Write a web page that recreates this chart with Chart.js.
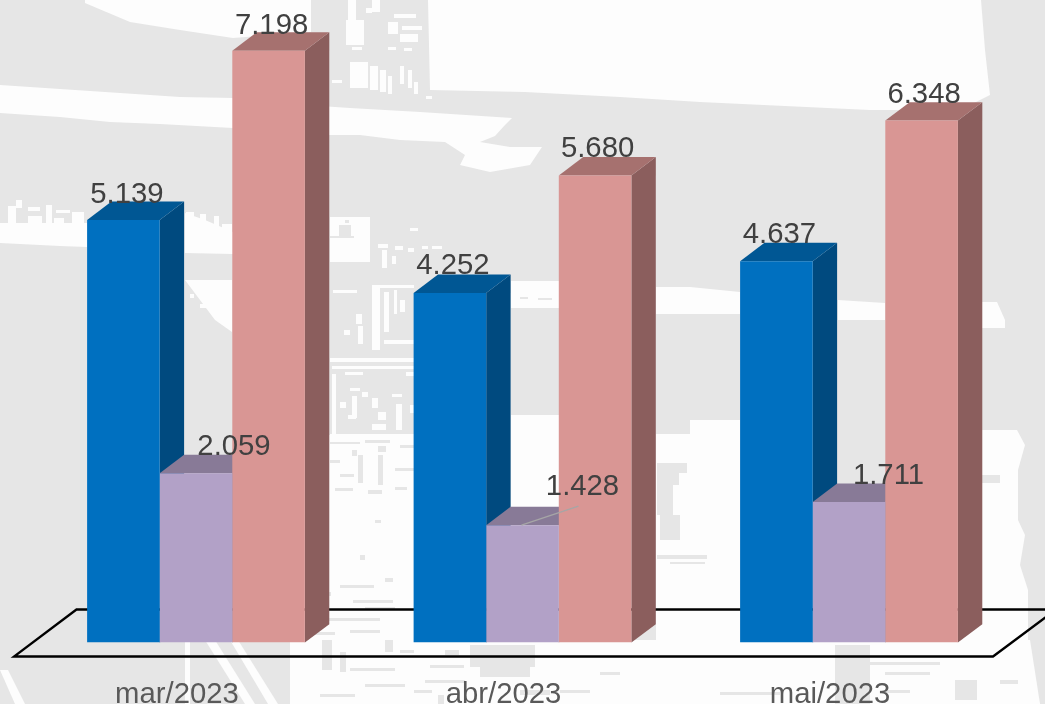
<!DOCTYPE html>
<html>
<head>
<meta charset="utf-8">
<style>
  html, body { margin: 0; padding: 0; background: #e6e6e6; overflow: hidden; }
  #wrap { width: 1045px; height: 704px; }
</style>
<script src="https://cdn.jsdelivr.net/npm/chart.js@4/dist/chart.umd.min.js"></script>
</head>
<body>
<div id="wrap"><canvas id="grafico" width="1045" height="704"></canvas></div>
<script>
const categorias = ['mar/2023', 'abr/2023', 'mai/2023'];
const serieAzul = [5139, 4252, 4637];
const serieLilas = [2059, 1428, 1711];
const serieRosa = [7198, 5680, 6348];

// cores: frente, topo, lateral
const coresAzul = ['#0070c0', '#005794', '#004a7f'];
const coresLilas = ['#b2a1c7', '#887a97', '#766b85'];
const coresRosa = ['#d99694', '#a6716f', '#8b5e5d'];

// deslocamento da linha de base dos rotulos em relacao ao topo de cada barra [dx, dy]
const ajusteAzul = [[3.5, -17], [3, -19], [3, -18]];
const ajusteLilas = [[38, -18], [60, -30], [39.5, -18]];
const ajusteRosa = [[3, -16.5], [2.5, -18], [2.5, -18]];

const fundoBranco = [
  [[428,0],[981,0],[985,50],[990,95],[960,110],[870,110],[700,102],[620,97],[525,92],[430,90]],
  [[85,0],[311,0],[311,32],[233,38],[180,30],[130,22],[85,3]],
  [[0,85],[75,90],[120,93],[180,97],[233,98],[233,128],[160,124],[110,122],[60,117],[0,113]],
  [[305,105],[350,108],[420,112],[512,118],[505,125],[495,136],[480,142],[510,147],[542,147],[530,165],[490,172],[460,165],[465,155],[445,142],[400,140],[360,135],[305,135]],
  [[0,223],[87,223],[87,247],[60,246],[0,243]],
  [[185,213],[205,220],[233,232],[233,254],[185,253]],
  [[330,217],[370,217],[370,262],[330,262]],
  [[185,280],[232,280],[232,332],[215,320]],
  [[305,435],[414,435],[414,704],[305,704]],
  [[511,281],[559,281],[559,308],[511,308]],
  [[511,415],[560,415],[560,704],[511,704]],
  [[656,287],[690,287],[740,292],[740,314],[656,314]],
  [[656,434],[690,434],[690,420],[740,420],[740,704],[656,704]],
  [[414,640],[1030,640],[1040,704],[414,704]],
  [[838,300],[885,303],[885,320],[838,320]],
  [[982,302],[997,302],[1005,320],[1005,328],[982,328]],
  [[958,430],[1017,430],[1025,445],[1018,470],[1018,520],[1025,535],[1020,565],[1028,590],[1028,650],[1030,680],[1040,704],[958,704]],
  [[0,670],[8,670],[25,704],[15,704]],
  [[185,640],[190,640],[190,704],[185,704]],
  [[205,640],[215,640],[255,704],[245,704]],
  [[230,640],[238,640],[278,704],[268,704]],
  [[290,440],[305,440],[305,704],[290,704]]
];

// manchas claras sobre o cinza [x, y, l, a]
const manchasClaras = [
  [348,0,8,20],[346,20,18,25],[372,0,8,12],[366,8,6,5],[394,14,22,4],[388,22,10,12],[402,26,20,4],[400,34,18,8],[352,47,10,3],[388,47,8,3],[404,48,8,3],
  [350,62,18,26],[370,66,8,24],[380,70,6,22],[388,76,4,18],[400,66,4,18],[408,70,4,18],[414,82,4,12],[426,96,6,3],[332,80,10,3],
  [8,206,8,20],[16,200,6,8],[28,207,12,4],[28,216,14,7],[46,205,6,18],[56,210,14,3],[54,218,10,5],[72,212,12,12],
  [186,212,8,14],[200,214,6,10],[214,216,5,12],[222,224,10,10],
  [410,228,8,3],
  [378,244,10,4],[382,250,5,18],[395,246,8,4],[392,256,4,8],[408,248,6,4],[422,246,6,3],[432,246,10,3],
  [333,290,24,3],[372,285,42,3],[372,288,8,62],[384,292,5,40],[394,290,3,24],[400,300,5,12],[356,314,6,10],[344,330,6,5],[358,326,5,18],
  [384,340,30,4],[330,358,84,4],[332,366,82,3],[332,374,4,60],[345,372,18,3],[350,388,10,3],[362,392,6,5],[340,402,6,6],[352,396,5,22],[372,398,6,10],
  [348,415,8,4],[378,412,8,8],[392,394,10,3],[396,404,6,26],[372,424,14,6],[406,372,8,4],[410,405,4,8],
  [330,434,84,4],
  [190,294,4,4],[198,290,8,4],[208,286,6,5],[200,304,8,4],[214,300,8,6],[222,318,6,4],
  [845,307,30,2],[850,315,30,2]
];

// manchas cinza sobre o branco [x, y, l, a]
const manchasEscuras = [
  [339,225,12,12],[345,220,4,3],[330,236,24,2],
  [520,297,8,2],[538,298,14,2],
  [330,442,30,2],[365,440,25,3],[352,450,5,6],[378,446,8,6],[400,445,14,3],[330,460,10,3],[358,455,5,28],[378,455,5,30],[395,468,19,3],
  [340,474,14,3],[305,475,20,3],[335,488,18,3],[368,490,14,4],[395,487,12,3],[305,495,10,3],[375,520,6,3],
  [360,555,5,5],[385,578,8,4],[340,585,34,3],[353,600,40,3],[365,607,30,3],[325,592,6,4],
  [320,618,60,3],[305,632,30,3],[350,630,30,3],[322,640,10,30],[340,652,6,20],[350,668,45,3],[365,684,40,3],[320,694,35,3],[400,650,14,3],[385,640,8,12],
  [470,645,65,22],[480,667,50,10],[430,665,34,3],[425,680,40,3],[520,690,30,5],[414,690,18,3],[438,695,6,9],[445,650,14,5],
  [657,463,30,10],[657,473,22,12],[657,485,16,30],[660,515,20,25],[657,555,50,4],[670,562,35,2],
  [835,645,35,59],[870,662,70,3],[885,672,45,3],[880,690,30,3],
  [982,475,18,8],[955,680,22,20],[1000,680,18,4],[720,692,60,3],[600,672,20,3],[560,690,30,3]
];

const desenhaFundo = {
  id: 'desenhaFundo',
  beforeDraw(chart) {
    const ctx = chart.ctx;
    ctx.save();
    ctx.fillStyle = '#e6e6e6';
    ctx.fillRect(0, 0, chart.width, chart.height);
    ctx.fillStyle = '#fdfdfd';
    fundoBranco.forEach(p => {
      ctx.beginPath();
      p.forEach((c, i) => i ? ctx.lineTo(c[0], c[1]) : ctx.moveTo(c[0], c[1]));
      ctx.closePath();
      ctx.fill();
    });
    manchasClaras.forEach(r => ctx.fillRect(r[0], r[1], r[2], r[3]));
    ctx.fillStyle = '#e6e6e6';
    manchasEscuras.forEach(r => ctx.fillRect(r[0], r[1], r[2], r[3]));
    // piso
    ctx.strokeStyle = '#000';
    ctx.lineWidth = 2.3;
    ctx.beginPath();
    ctx.moveTo(1060, 609.5);
    ctx.lineTo(76.5, 609.5);
    ctx.lineTo(14, 656.5);
    ctx.lineTo(993, 656.5);
    ctx.lineTo(1056, 609.5);
    ctx.stroke();
    ctx.restore();
  }
};

// lateral e topo de cada barra, desenhados antes das frentes
const PROF_X = 24.4;
const PROF_Y = 18.4;
const barras3d = {
  id: 'barras3d',
  beforeDatasetsDraw(chart) {
    const ctx = chart.ctx;
    ctx.save();
    chart.data.datasets.forEach((ds, i) => {
      chart.getDatasetMeta(i).data.forEach(b => {
        const esq = b.x - b.width / 2;
        const dir = b.x + b.width / 2;
        ctx.fillStyle = ds.cores[2];
        ctx.beginPath();
        ctx.moveTo(dir, b.y);
        ctx.lineTo(dir + PROF_X, b.y - PROF_Y);
        ctx.lineTo(dir + PROF_X, b.base - PROF_Y);
        ctx.lineTo(dir, b.base);
        ctx.closePath();
        ctx.fill();
        ctx.fillStyle = ds.cores[1];
        ctx.beginPath();
        ctx.moveTo(esq, b.y);
        ctx.lineTo(esq + PROF_X, b.y - PROF_Y);
        ctx.lineTo(dir + PROF_X, b.y - PROF_Y);
        ctx.lineTo(dir, b.y);
        ctx.closePath();
        ctx.fill();
      });
    });
    ctx.restore();
  }
};

const rotulos = {
  id: 'rotulos',
  afterDatasetsDraw(chart) {
    const ctx = chart.ctx;
    ctx.save();
    // linha guia do 1.428
    const guia = chart.getDatasetMeta(1).data[1];
    ctx.strokeStyle = '#a6a6a6';
    ctx.lineWidth = 1.3;
    ctx.beginPath();
    ctx.moveTo(guia.x - 1, guia.y);
    ctx.lineTo(guia.x + 56, guia.y - 19);
    ctx.stroke();

    ctx.font = '29.3px "Liberation Sans", Arial, sans-serif';
    ctx.fillStyle = '#404040';
    ctx.textAlign = 'center';
    ctx.textBaseline = 'alphabetic';
    chart.data.datasets.forEach((ds, i) => {
      chart.getDatasetMeta(i).data.forEach((b, j) => {
        const texto = String(ds.data[j]).replace(/(\d)(\d{3})$/, '$1.$2');
        ctx.fillText(texto, b.x + ds.ajuste[j][0], b.y + ds.ajuste[j][1]);
      });
    });
    ctx.restore();
  }
};

new Chart(document.getElementById('grafico'), {
  type: 'bar',
  data: {
    labels: categorias,
    datasets: [
      { label: 'azul', data: serieAzul, backgroundColor: coresAzul[0], cores: coresAzul, ajuste: ajusteAzul },
      { label: 'lilas', data: serieLilas, backgroundColor: coresLilas[0], cores: coresLilas, ajuste: ajusteLilas },
      { label: 'rosa', data: serieRosa, backgroundColor: coresRosa[0], cores: coresRosa, ajuste: ajusteRosa }
    ]
  },
  options: {
    responsive: false,
    animation: false,
    events: [],
    categoryPercentage: 0.667,
    barPercentage: 1,
    layout: { padding: { left: 32.75, right: 32.75, top: 0, bottom: 0 } },
    plugins: { legend: { display: false }, tooltip: { enabled: false } },
    scales: {
      x: {
        grid: { display: false },
        border: { display: false },
        afterFit: s => { s.height = 61.4; },
        ticks: {
          color: '#595959',
          font: { family: '"Liberation Sans", Arial, sans-serif', size: 29.3 },
          labelOffset: -19,
          padding: 26.5,
          maxRotation: 0,
          autoSkip: false
        }
      },
      y: { display: false, min: 0, max: 7814 }
    }
  },
  plugins: [desenhaFundo, barras3d, rotulos]
});
</script>
</body>
</html>
